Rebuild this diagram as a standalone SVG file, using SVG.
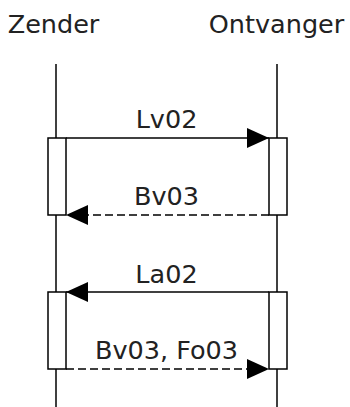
<svg xmlns="http://www.w3.org/2000/svg" width="350" height="407" viewBox="0 0 350 407">
  <style>
    .t { font-family: "DejaVu Sans", sans-serif; font-size: 25.5px; fill: #222; text-anchor: middle; }
    .life { stroke: #000; stroke-width: 1.5; fill: none; }
    .act { stroke: #000; stroke-width: 1.5; fill: #fff; }
    .msg { stroke: #000; stroke-width: 1.5; fill: none; }
    .dash { stroke-dasharray: 8 4; }
  </style>
  <defs>
    <marker id="ah" markerWidth="22" markerHeight="20" refX="22" refY="10" orient="auto" markerUnits="userSpaceOnUse">
      <path d="M0,0 L22,10 L0,20 Z" fill="#000"/>
    </marker>
  </defs>
  <g id="zender">
    <text class="t" x="53.5" y="33">Zender</text>
    <line class="life" x1="56" y1="64" x2="56" y2="407"/>
  </g>
  <g id="ontvanger">
    <text class="t" x="276.5" y="33">Ontvanger</text>
    <line class="life" x1="277" y1="64" x2="277" y2="407"/>
  </g>
  <g id="act-z1"><rect class="act" x="48" y="138" width="18" height="77"/></g>
  <g id="act-o1"><rect class="act" x="269" y="138" width="18" height="77"/></g>
  <g id="act-z2"><rect class="act" x="48" y="292" width="18" height="77"/></g>
  <g id="act-o2"><rect class="act" x="269" y="292" width="18" height="77"/></g>
  <g id="connectors">
    <line class="msg" x1="66" y1="138" x2="269" y2="138" marker-end="url(#ah)"/>
    <text class="t" x="166.5" y="128">Lv02</text>
    <line class="msg dash" x1="269" y1="215" x2="66" y2="215" marker-end="url(#ah)"/>
    <text class="t" x="166.5" y="205">Bv03</text>
    <line class="msg" x1="269" y1="292" x2="66" y2="292" marker-end="url(#ah)"/>
    <text class="t" x="166.5" y="283">La02</text>
    <line class="msg dash" x1="66" y1="369" x2="269" y2="369" marker-end="url(#ah)"/>
    <text class="t" x="166.5" y="359">Bv03, Fo03</text>
  </g>
</svg>
